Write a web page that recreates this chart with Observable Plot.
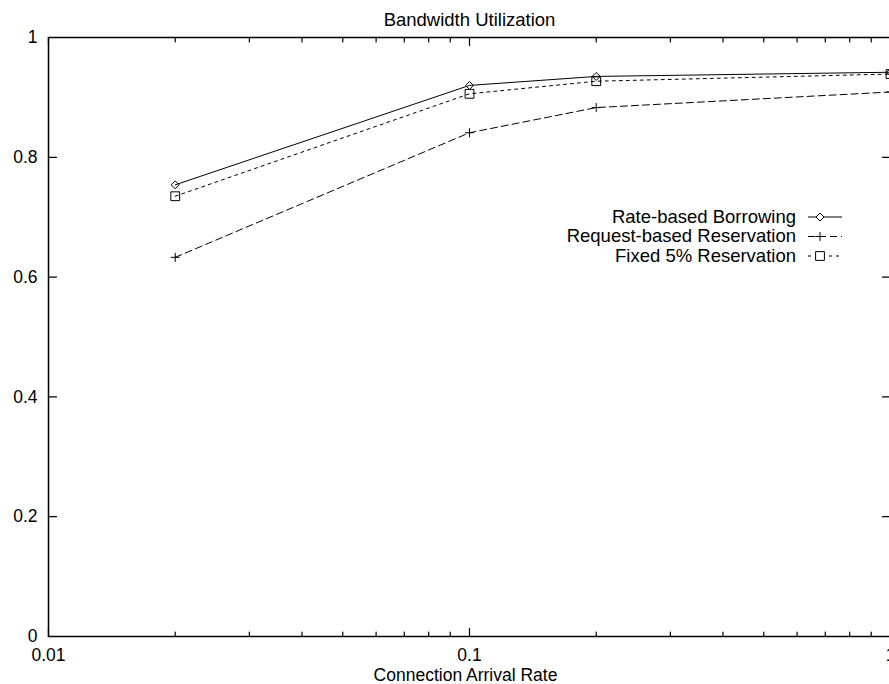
<!DOCTYPE html>
<html><head><meta charset="utf-8">
<script src="https://cdn.jsdelivr.net/npm/d3@7"></script>
<script src="https://cdn.jsdelivr.net/npm/@observablehq/plot@0.6"></script>
<style>
body{margin:0;background:#fff;font-family:"Liberation Sans",Arial,Helvetica,sans-serif;}
#chart{width:889px;height:684px;overflow:hidden;}
</style>
</head><body><div id="chart"></div>
<script>
// ---- data ----
const rates = [0.02, 0.1, 0.2, 1];
const seriesNames = ["Rate-based Borrowing", "Request-based Reservation", "Fixed 5% Reservation"];
const rateBased = [0.754, 0.920, 0.935, 0.942];
const requestBased = [0.633, 0.841, 0.883, 0.909];
const fixed5 = [0.735, 0.906, 0.927, 0.939];
const xMajorTicks = [0.01, 0.1, 1];
const xTickLabels = ["0.01", "0.1", "1"];
const xMinorTicks = [0.02, 0.03, 0.04, 0.05, 0.06, 0.07, 0.08, 0.09, 0.2, 0.3, 0.4, 0.5, 0.6, 0.7, 0.8, 0.9];
const yTicks = [0, 0.2, 0.4, 0.6, 0.8, 1];
const yTickLabels = ["0", "0.2", "0.4", "0.6", "0.8", "1"];
const titleText = "Bandwidth Utilization";
const xLabelText = "Connection Arrival Rate";

// ---- styles ----
const seriesValues = [rateBased, requestBased, fixed5];
const dashes = [null, "7,4", "3,4"];
const symbols = ["diamond2", "plus", "square2"];
const radii = [3.6, 3.0, 5.6];

const rows = [];
seriesNames.forEach((s, k) => rates.forEach((r, i) => rows.push({series: s, k, rate: r, value: seriesValues[k][i]})));

const tickShape = {draw(ctx, l) { ctx.moveTo(0, 0); ctx.lineTo(0, -l); }};
const tk = (data, opts) => Plot.vector(data, {anchor: "start", shape: tickShape, stroke: "black", strokeWidth: 1.2, ...opts});

const marks = [
  Plot.frame({stroke: "black", strokeWidth: 1.5}),
  tk(xMajorTicks, {x: d => d, frameAnchor: "bottom", rotate: 0, length: 8}),
  tk(xMinorTicks, {x: d => d, frameAnchor: "bottom", rotate: 0, length: 4.5}),
  tk(xMajorTicks, {x: d => d, frameAnchor: "top", rotate: 180, length: 8}),
  tk(xMinorTicks, {x: d => d, frameAnchor: "top", rotate: 180, length: 4.5}),
  tk(yTicks, {y: d => d, frameAnchor: "left", rotate: 90, length: 8}),
  tk(yTicks, {y: d => d, frameAnchor: "right", rotate: -90, length: 8}),
  Plot.axisX(xMajorTicks, {tickSize: 0, tickPadding: 12, fontSize: 17.5, label: null,
    tickFormat: d => xTickLabels[xMajorTicks.indexOf(d)]}),
  Plot.axisY(yTicks, {tickSize: 0, tickPadding: 11, fontSize: 17.5, label: null,
    tickFormat: d => yTickLabels[yTicks.indexOf(d)]}),
  Plot.text([titleText], {frameAnchor: "top", dy: -17, fontSize: 18.5, lineAnchor: "middle", text: d => d, fill: "black"}),
  Plot.text([xLabelText], {frameAnchor: "bottom", dy: 38.5, dx: -4, fontSize: 17.5, lineAnchor: "middle", text: d => d, fill: "black"}),
];
seriesNames.forEach((s, k) => {
  const d = rows.filter(r => r.k === k);
  marks.push(Plot.line(d, {x: "rate", y: "value", stroke: "black", strokeWidth: 1, strokeDasharray: dashes[k]}));
  marks.push(Plot.dot(d, {x: "rate", y: "value", symbol: () => symbols[k], r: radii[k], stroke: "black", strokeWidth: 1, fill: "none"}));
});

const chart = Plot.plot({
  width: 889, height: 684,
  marginLeft: 48, marginRight: -1, marginTop: 37, marginBottom: 48,
  style: {fontFamily: '"Liberation Sans", Arial, Helvetica, sans-serif', color: "black", background: "white", overflow: "hidden"},
  x: {type: "log", domain: [0.01, 1], axis: null},
  y: {domain: [0, 1], axis: null},
  symbol: {type: "identity"},
  marks
});
document.getElementById("chart").appendChild(chart);

// ---- legend (inside plot, upper right) ----
const svg = d3.select(chart);
const lg = svg.append("g").attr("font-size", 18.5).attr("fill", "black");
const symMap = {diamond2: d3.symbolDiamond2, plus: d3.symbolPlus, square2: d3.symbolSquare2};
seriesNames.forEach((s, k) => {
  const y = 217 + 19.5 * k;
  lg.append("text").attr("x", 796).attr("y", y).attr("dy", "0.32em").attr("text-anchor", "end").text(s);
  lg.append("line").attr("x1", 808).attr("x2", 842).attr("y1", y).attr("y2", y)
    .attr("stroke", "black").attr("stroke-width", 1).attr("stroke-dasharray", dashes[k]);
  lg.append("path").attr("transform", `translate(820,${y})`)
    .attr("d", d3.symbol(symMap[symbols[k]], Math.PI * radii[k] * radii[k])())
    .attr("fill", "white").attr("stroke", "black").attr("stroke-width", 1);
});
</script>
</body></html>
